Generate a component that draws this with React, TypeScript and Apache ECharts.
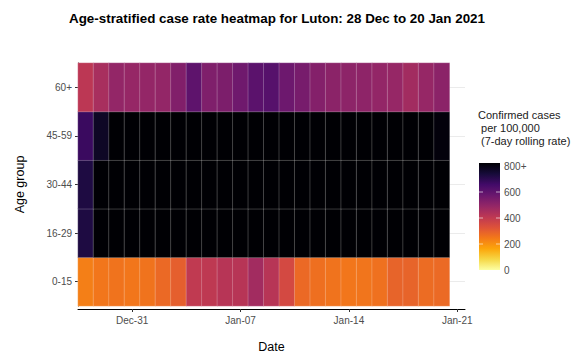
import React, { useEffect, useRef } from "react";
import * as echarts from "echarts";

const dates = [
  "Dec-28", "Dec-29", "Dec-30", "Dec-31", "Jan-01", "Jan-02", "Jan-03",
  "Jan-04", "Jan-05", "Jan-06", "Jan-07", "Jan-08", "Jan-09", "Jan-10",
  "Jan-11", "Jan-12", "Jan-13", "Jan-14", "Jan-15", "Jan-16", "Jan-17",
  "Jan-18", "Jan-19", "Jan-20", "Jan-21",
];
const shownDates = ["Dec-31", "Jan-07", "Jan-14", "Jan-21"];
const ageGroups = ["0-15", "16-29", "30-44", "45-59", "60+"];

const rate0to15 = [228, 245, 250, 245, 250, 270, 292, 390, 395, 410, 410, 450, 410, 345, 270, 258, 250, 245, 247, 255, 282, 282, 265, 268];
const rate16to29 = [705, 860, 905, 940, 980, 1010, 1030, 1060, 1080, 1090, 1100, 1110, 1095, 1080, 1060, 1040, 1020, 1000, 980, 960, 940, 920, 900, 880];
const rate30to44 = [705, 880, 920, 960, 1000, 1040, 1070, 1100, 1120, 1130, 1140, 1150, 1140, 1120, 1100, 1080, 1060, 1040, 1020, 1000, 980, 960, 930, 900];
const rate45to59 = [655, 750, 830, 860, 880, 900, 920, 950, 970, 980, 990, 1000, 990, 970, 950, 930, 910, 890, 870, 850, 840, 830, 815, 790];
const rate60plus = [400, 440, 480, 475, 478, 480, 515, 585, 520, 525, 550, 590, 600, 555, 535, 510, 495, 492, 490, 480, 475, 450, 475, 495];

const legendTicks = [0, 200, 400, 600, 800];
const legendLabels = ["0", "200", "400", "600", "800+"];
const legendTitle = ["Confirmed cases", " per 100,000", " (7-day rolling rate)"];

const infernoLowToHigh = [
  "#FCFFA4", "#F6D746", "#FCA50A", "#F37819", "#DD513A",
  "#BC3754", "#932667", "#6A176E", "#420A68", "#160B39", "#000004",
];

const FONT = "Liberation Sans, Arial, sans-serif";

export default function App() {
  const ref = useRef<HTMLDivElement>(null);
  useEffect(() => {
    if (!ref.current) return;
    const chart = echarts.init(ref.current, undefined, { renderer: "svg" });
    const rows = [rate0to15, rate16to29, rate30to44, rate45to59, rate60plus];
    const data: [number, number, number][] = [];
    rows.forEach((row, yi) => row.forEach((v, xi) => data.push([xi, yi, v])));

    const barX = 479, barY = 163, barW = 21, barH = 107;
    const maxV = 800;
    const graphics: any[] = [
      {
        type: "rect",
        shape: { x: barX, y: barY, width: barW, height: barH },
        style: {
          fill: new echarts.graphic.LinearGradient(0, 1, 0, 0,
            infernoLowToHigh.map((c, i) => ({ offset: i / (infernoLowToHigh.length - 1), color: c }))),
        },
      },
    ];
    legendTitle.forEach((t, i) => {
      graphics.push({
        type: "text", x: 478, y: 115 + i * 12.8,
        style: { text: t, font: `11px ${FONT}`, fill: "#222", verticalAlign: "middle" },
      });
    });
    legendTicks.forEach((v, i) => {
      const y = barY + barH - (v / maxV) * (barH - 3);
      graphics.push({
        type: "text", x: 504, y,
        style: { text: legendLabels[i], font: `10px ${FONT}`, fill: "#4D4D4D", verticalAlign: "middle" },
      });
      if (i > 0 && i < legendTicks.length - 1) {
        graphics.push({ type: "line", shape: { x1: barX, y1: y, x2: barX + 4, y2: y }, style: { stroke: "rgba(255,255,255,0.6)", lineWidth: 1 } });
        graphics.push({ type: "line", shape: { x1: barX + barW - 4, y1: y, x2: barX + barW, y2: y }, style: { stroke: "rgba(255,255,255,0.6)", lineWidth: 1 } });
      }
    });

    chart.setOption({
      animation: false,
      title: {
        text: "Age-stratified case rate heatmap for Luton: 28 Dec to 20 Jan 2021",
        left: 64, top: 7,
        textStyle: { fontFamily: FONT, fontSize: 13.4, fontWeight: "bold", color: "#000" },
      },
      grid: { left: 78, right: 117, top: 63, bottom: 43, containLabel: false },
      xAxis: {
        type: "category",
        data: dates,
        offset: 3,
        name: "Date",
        nameLocation: "middle",
        nameGap: 31,
        nameTextStyle: { fontFamily: FONT, fontSize: 12.5, color: "#000" },
        axisLine: { show: true, lineStyle: { color: "#000", width: 1 } },
        axisTick: {
          show: true, alignWithLabel: true, length: 3,
          interval: (i: number, v: string) => shownDates.includes(v),
          lineStyle: { color: "#333" },
        },
        axisLabel: {
          interval: (i: number, v: string) => shownDates.includes(v),
          fontFamily: FONT, fontSize: 10, color: "#4D4D4D", margin: 6,
        },
        splitLine: { show: false },
      },
      yAxis: {
        type: "category",
        data: ageGroups,
        name: "Age group",
        nameLocation: "middle",
        nameGap: 52,
        nameTextStyle: { fontFamily: FONT, fontSize: 12.5, color: "#000" },
        axisLine: { show: true, lineStyle: { color: "#000", width: 1 } },
        axisTick: { show: true, alignWithLabel: true, length: 3, lineStyle: { color: "#333" } },
        axisLabel: { fontFamily: FONT, fontSize: 10, color: "#4D4D4D", margin: 6 },
        splitLine: { show: true, alignWithLabel: true, lineStyle: { color: "#EBEBEB", width: 1 } },
      },
      visualMap: {
        show: false,
        type: "continuous",
        min: 0,
        max: maxV,
        dimension: 2,
        inRange: { color: infernoLowToHigh },
      },
      series: [
        {
          type: "heatmap",
          data,
          itemStyle: { borderColor: "rgba(255,255,255,0.22)", borderWidth: 1 },
          emphasis: { disabled: true },
        },
      ],
      graphic: graphics,
    });
    return () => chart.dispose();
  }, []);
  return (
    <div
      ref={ref}
      style={{ position: "fixed", left: 0, top: 0, width: 582, height: 358, background: "#fff" }}
    />
  );
}
